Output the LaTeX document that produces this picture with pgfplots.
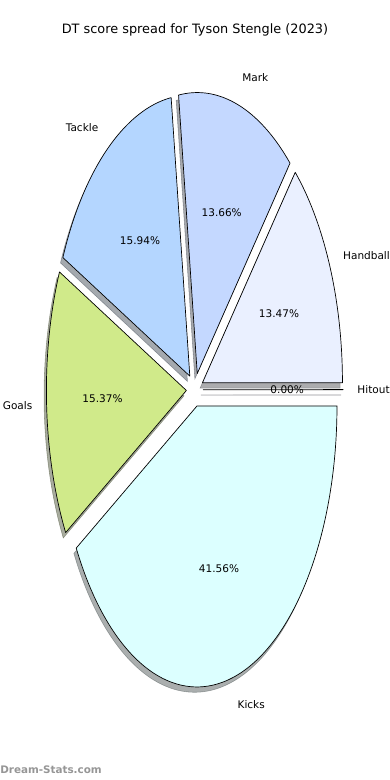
\documentclass[border=0pt]{standalone}
\usepackage{pgfplots}
\usepackage{pgfplotstable}
\usepackage{fontspec}
\setmainfont{DejaVu Sans}
\newfontfamily\wmfont{DejaVu Sans}
\pgfplotsset{compat=1.18}

\definecolor{cHandball}{HTML}{EAF0FF}
\definecolor{cMark}{HTML}{C4D8FF}
\definecolor{cTackle}{HTML}{B4D6FF}
\definecolor{cGoals}{HTML}{D0EA8A}
\definecolor{cKicks}{HTML}{DCFFFF}
\definecolor{cHitout}{HTML}{E6E6FA}

\pgfplotstableread{
label value
Handball 13.47
Mark 13.66
Tackle 15.94
Goals 15.37
Kicks 41.56
Hitout 0.00
}\dtdata

\newcommand\preppie{%
  \gdef\cum{0}%
  \foreach \i in {0,...,5}{%
    \pgfplotstablegetelem{\i}{value}\of\dtdata
    \let\v\pgfplotsretval
    \pgfplotstablegetelem{\i}{label}\of\dtdata
    \expandafter\xdef\csname plab\i\endcsname{\pgfplotsretval}%
    \expandafter\xdef\csname pv\i\endcsname{\v}%
    \pgfmathsetmacro\a{\cum*3.6}%
    \pgfmathsetmacro\b{(\cum+\v)*3.6}%
    \pgfmathsetmacro\m{(\a+\b)/2}%
    \pgfmathsetmacro\b{max(\b,\a+0.02)}%
    \pgfmathsetmacro\ox{0.06*cos(\m)}%
    \pgfmathsetmacro\oy{0.06*sin(\m)}%
    \pgfmathsetmacro\sx{\ox-0.017}%
    \pgfmathsetmacro\sy{\oy-0.019}%
    \pgfmathsetmacro\px{\ox+0.6*cos(\m)}%
    \pgfmathsetmacro\py{\oy+0.6*sin(\m)}%
    \pgfmathsetmacro\lx{\ox+1.1*cos(\m)}%
    \pgfmathsetmacro\ly{\oy+1.1*sin(\m)}%
    \pgfmathsetmacro\cm{cos(\m)}%
    \ifdim\cm pt>0pt \gdef\anc{west}\else\gdef\anc{east}\fi
    \expandafter\xdef\csname panc\i\endcsname{\anc}%
    \expandafter\xdef\csname pa\i\endcsname{\a}%
    \expandafter\xdef\csname pb\i\endcsname{\b}%
    \expandafter\xdef\csname pox\i\endcsname{\ox}%
    \expandafter\xdef\csname poy\i\endcsname{\oy}%
    \expandafter\xdef\csname psx\i\endcsname{\sx}%
    \expandafter\xdef\csname psy\i\endcsname{\sy}%
    \expandafter\xdef\csname ppx\i\endcsname{\px}%
    \expandafter\xdef\csname ppy\i\endcsname{\py}%
    \expandafter\xdef\csname plx\i\endcsname{\lx}%
    \expandafter\xdef\csname ply\i\endcsname{\ly}%
    \pgfmathsetmacro\c{\cum+\v}%
    \xdef\cum{\c}%
  }%
}
\def\P#1#2{\csname p#1#2\endcsname}

\begin{document}
\preppie
\begin{tikzpicture}
\useasboundingbox (0,0) rectangle (280.8bp,561.6bp);
\begin{axis}[
  at={(0,0)}, anchor=south west,
  scale only axis, width=280.8bp, height=561.6bp,
  hide axis, clip=false,
  xmin=-1.3914, xmax=1.3943, ymin=-1.3890, ymax=1.3868,
]
% shadows
\pgfplotsinvokeforeach{0,...,5}{
  \addplot[draw=c\P{lab}{#1}!30!black, fill=c\P{lab}{#1}!30!black, opacity=0.45, line width=0.4pt,
    domain=\P{a}{#1}:\P{b}{#1}, samples=120, variable=\t]
    ({\P{sx}{#1}+cos(\t)},{\P{sy}{#1}+sin(\t)}) -- (axis cs:\P{sx}{#1},\P{sy}{#1}) -- cycle;
}
% wedges
\pgfplotsinvokeforeach{0,...,5}{
  \addplot[draw=black, fill=c\P{lab}{#1}, line width=0.5pt, line join=round,
    domain=\P{a}{#1}:\P{b}{#1}, samples=120, variable=\t]
    ({\P{ox}{#1}+cos(\t)},{\P{oy}{#1}+sin(\t)}) -- (axis cs:\P{ox}{#1},\P{oy}{#1}) -- cycle;
}
% labels
\pgfplotsinvokeforeach{0,...,5}{
  \node[anchor=\P{anc}{#1}, inner sep=0pt, font=\fontsize{7.6}{9}\selectfont]
    at (axis cs:\P{lx}{#1},\P{ly}{#1}) {\P{lab}{#1}};
  \node[anchor=center, inner sep=0pt, font=\fontsize{7.6}{9}\selectfont]
    at (axis cs:\P{px}{#1},\P{py}{#1}) {\pgfmathprintnumber[fixed,precision=2,fixed zerofill,assume math mode=true]{\P{v}{#1}}\%};
}
\node[anchor=center, inner sep=0pt, font=\fontsize{9.3}{11}\selectfont]
  at (rel axis cs:0.5,0.9615) {DT score spread for Tyson Stengle (2023)};
\node[anchor=west, inner sep=0pt, font=\wmfont\bfseries\fontsize{7.5}{9}\selectfont, text={rgb,255:red,150;green,150;blue,150}]
  at (rel axis cs:0,0.0128) {Dream-Stats.com};
\end{axis}
\end{tikzpicture}
\end{document}
